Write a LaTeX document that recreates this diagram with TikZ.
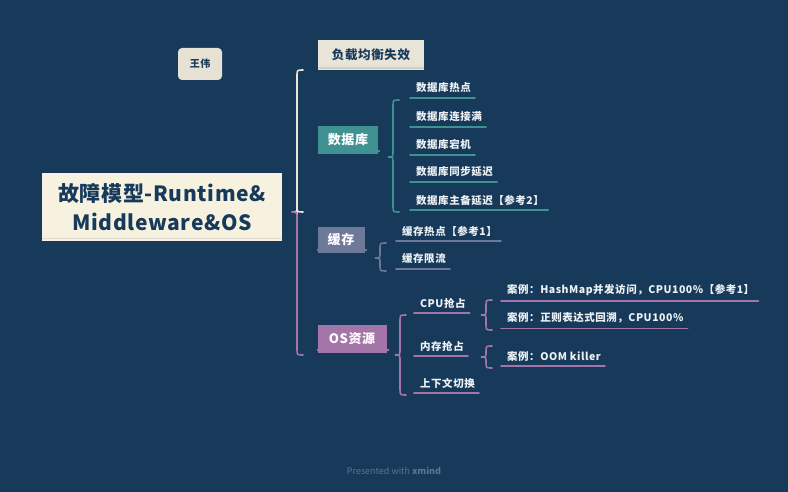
\documentclass[tikz,border=0pt]{standalone}
\usepackage{fontspec}
\setmainfont{Noto Sans CJK SC}
\newfontfamily\spaced[LetterSpace=5]{Noto Sans CJK SC}
\newfontfamily\rootfont[LetterSpace=3]{Noto Sans CJK SC}
\definecolor{bg}{HTML}{173A5A}
\definecolor{cream}{HTML}{F7F2DF}
\definecolor{beige}{HTML}{E6E1D2}
\definecolor{teal}{HTML}{3F9291}
\definecolor{cache}{HTML}{6E7899}
\definecolor{purp}{HTML}{A475A8}
\definecolor{txt}{HTML}{EEF2F5}
\definecolor{dark}{HTML}{173A5A}
\definecolor{foot}{HTML}{5A7590}
\newcommand\mybrace[5]{%
  \draw[#1,line width=1.6pt,line cap=round] (#2+6,#3) .. controls (#2,#3) .. (#2,#3+6) -- (#2,#4-5) .. controls (#2,#4) .. (#2-5,#4) .. controls (#2,#4) .. (#2,#4+5) -- (#2,#5-6) .. controls (#2,#5) .. (#2+6,#5);}
\begin{document}
\begin{tikzpicture}[x=1pt,y=-1pt,
  child/.style={anchor=west,text=txt,font=\spaced\fontsize{10.5}{12}\selectfont\bfseries,inner xsep=0pt,inner ysep=2pt},
  boxlab/.style={text=white,font=\spaced\fontsize{13}{15}\selectfont\bfseries,minimum height=28pt,inner xsep=8pt},
  uline/.style={line width=1.8pt,line cap=round}]
\fill[bg] (0,0) rectangle (788,492);
\useasboundingbox (0,0) rectangle (788,492);

% central topic
\node[fill=cream,text=dark,align=center,font=\rootfont\fontsize{21}{29}\selectfont\bfseries,minimum width=240pt,minimum height=68pt] (root) at (162,207) {故障模型-Runtime\&\\Middleware\&OS};
\draw[cream!80!gray,line width=1pt] ([yshift=3]root.south west) -- ([yshift=3]root.south east);

% author
\node[fill=beige,text=dark,font=\spaced\fontsize{10}{12}\selectfont\bfseries,rounded corners=4pt,minimum width=44pt,minimum height=32pt] (auth) at (200,64) {王伟};

% main brace
\mybrace{cream!90!gray}{297}{70}{212}{212}
\draw[purp,line width=1.6pt,line cap=round] (292,212) .. controls (297,212) .. (297,217) -- (297,349) .. controls (297,355) .. (303,355);

% branch 1
\node[fill=beige!90!white,text=dark,font=\spaced\fontsize{12.5}{15}\selectfont\bfseries,minimum width=106pt,minimum height=30pt] (lb) at (371,55) {负载均衡失效};
\draw[beige!80!gray,line width=1.5pt] ([yshift=2]lb.south west) -- ([yshift=2]lb.south east);

% database
\node[boxlab,fill=teal,minimum width=60pt] (db) at (348,140) {数据库};
\draw[teal,line width=2pt] ([yshift=3]db.south west) -- ([yshift=3,xshift=2]db.south east);
\mybrace{teal}{393}{100}{157}{212}
\node[child] (d1) at (416,88) {数据库热点};
\node[child] (d2) at (416,117) {数据库连接满};
\node[child] (d3) at (416,145) {数据库宕机};
\node[child] (d4) at (416,172) {数据库同步延迟};
\node[child] (d5) at (416,200) {数据库主备延迟【参考2】};
\foreach \n in {d1,d2,d3,d4,d5}{\draw[teal,uline] ([xshift=-6,yshift=-3]\n.south west) -- ([xshift=4,yshift=-3]\n.south east);}

% cache
\node[boxlab,fill=cache,minimum width=47pt,minimum height=26pt] (ca) at (341,240) {缓存};
\draw[cache,line width=2pt] ([yshift=3]ca.south west) -- ([yshift=3,xshift=2]ca.south east);
\mybrace{cache}{380}{243}{258}{271}
\node[child] (c1) at (402,231) {缓存热点【参考1】};
\node[child] (c2) at (402,259) {缓存限流};
\foreach \n in {c1,c2}{\draw[cache,uline] ([xshift=-6,yshift=-3]\n.south west) -- ([xshift=4,yshift=-3]\n.south east);}

% OS
\node[boxlab,fill=purp,minimum width=69pt] (os) at (352,339) {OS资源};
\draw[purp,line width=2pt] ([yshift=3]os.south west) -- ([yshift=3,xshift=2]os.south east);
\mybrace{purp}{400}{315}{355}{395}
\node[child] (o1) at (420,303) {CPU抢占};
\node[child] (o2) at (420,346) {内存抢占};
\node[child] (o3) at (420,383) {上下文切换};
\foreach \n in {o1,o2,o3}{\draw[purp,uline] ([xshift=-6,yshift=-3]\n.south west) -- ([xshift=4,yshift=-3]\n.south east);}
\mybrace{purp}{486}{300}{315}{330}
\node[child] (e1) at (507,290) {案例：HashMap并发访问，CPU100\%【参考1】};
\node[child] (e2) at (507,318) {案例：正则表达式回溯，CPU100\%};
\mybrace{purp}{486}{346}{357}{368}
\node[child] (e3) at (507,356) {案例：OOM killer};
\foreach \n in {e1,e2,e3}{\draw[purp,uline] ([xshift=-6,yshift=-3]\n.south west) -- ([xshift=4,yshift=-3]\n.south east);}

% footer
\node[text=foot,font=\fontsize{9}{11}\selectfont] (ft) at (394,471) {Presented with \textbf{xmind}};
\end{tikzpicture}
\end{document}
